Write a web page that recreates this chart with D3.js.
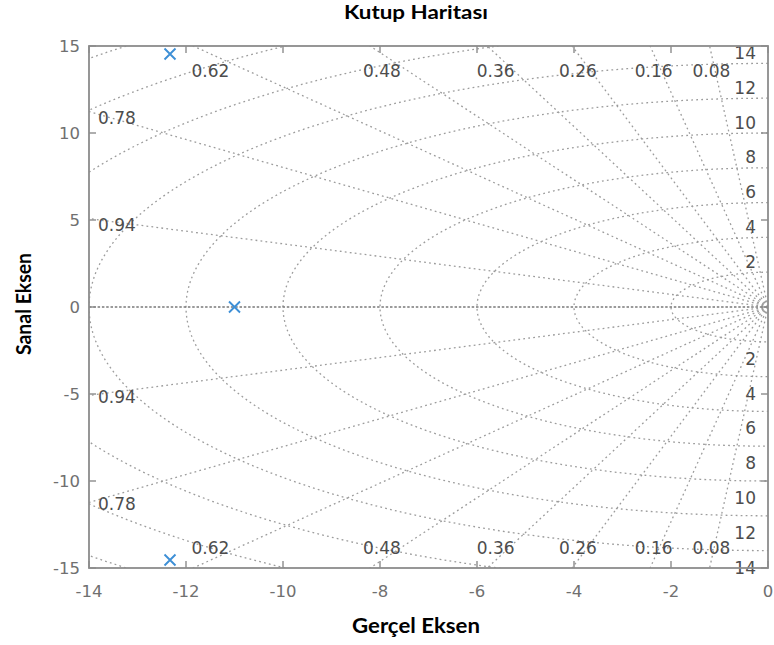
<!DOCTYPE html>
<html>
<head>
<meta charset="utf-8">
<script src="https://cdn.jsdelivr.net/npm/d3@7"></script>
<style>
  body { margin: 0; background: #fff; }
  svg { display: block; }
</style>
</head>
<body>
<div id="vis"></div>
<script>
// data
const realTicks = [-14, -12, -10, -8, -6, -4, -2, 0];
const imagTicks = [-15, -10, -5, 0, 5, 10, 15];
const dampingValues = [0.08, 0.16, 0.26, 0.36, 0.48, 0.62, 0.78, 0.94];
const freqValues = [2, 4, 6, 8, 10, 12, 14, 16, 18, 20];
const freqLabelValues = [2, 4, 6, 8, 10, 12, 14];
const poleRe = [-12.33, -11, -12.33];
const poleIm = [14.54, 0, -14.54];

let svg = d3.select("#vis")
    .append('svg')
    .attr('width', 774)
    .attr('height', 645)

let x = d3.scaleLinear().domain([-14, 0]).range([89, 768])
let y = d3.scaleLinear().domain([-15, 15]).range([568, 46])

svg.append('clipPath').attr('id', 'plot')
    .append('rect')
    .attr('x', x(-14)).attr('y', y(15))
    .attr('width', x(0) - x(-14)).attr('height', y(-15) - y(15))

let grid = svg.append('g').attr('clip-path', 'url(#plot)')

// natural frequency circles
let angles = d3.range(90, 271, 1).map(d => d * Math.PI / 180)
let line = d3.line().x(d => x(d[0])).y(d => y(d[1]))
freqValues.forEach(wn => {
    grid.append('path')
        .attr('d', line(angles.map(a => [wn * Math.cos(a), wn * Math.sin(a)])))
        .attr('fill', 'none')
        .attr('stroke', '#9c9c9c')
        .attr('stroke-width', 1.3)
        .attr('stroke-dasharray', '1.8,3.2')
})

// damping rays
dampingValues.forEach(z => {
    let w = Math.sqrt(1 - z * z)
    ;[1, -1].forEach(s => {
        grid.append('line')
            .attr('x1', x(0)).attr('y1', y(0))
            .attr('x2', x(-40 * z)).attr('y2', y(40 * w * s))
            .attr('stroke', '#9c9c9c')
            .attr('stroke-width', 1.3)
            .attr('stroke-dasharray', '1.8,3.2')
    })
})

// real axis
grid.append('line')
    .attr('x1', x(-14)).attr('y1', y(0))
    .attr('x2', x(0)).attr('y2', y(0))
    .attr('stroke', '#7a7a7a')
    .attr('stroke-width', 1.3)
    .attr('stroke-dasharray', '2.5,1.8')

// damping labels
dampingValues.forEach(z => {
    let ratio = Math.sqrt(1 - z * z) / z
    let topX = -15 / ratio
    if (topX > -14) {
        let lx = -14.55 / ratio
        ;[[y(15) + 25], [y(-15) - 20]].forEach(p => {
            svg.append('text')
                .attr('x', x(lx)).attr('y', p[0])
                .attr('text-anchor', 'middle')
                .attr('dominant-baseline', 'central')
                .attr('font-family', 'DejaVu Sans')
                .attr('font-size', 17)
                .attr('fill', '#4d4d4d')
                .text(z.toFixed(2))
        })
    } else {
        let ly = 14 * ratio
        ;[[y(ly) + 6], [y(-ly) + 1.5]].forEach(p => {
            svg.append('text')
                .attr('x', x(-14) + 9).attr('y', p[0])
                .attr('dominant-baseline', 'central')
                .attr('font-family', 'DejaVu Sans')
                .attr('font-size', 17)
                .attr('fill', '#4d4d4d')
                .text(z.toFixed(2))
        })
    }
})

// frequency labels on the right
freqLabelValues.forEach(wn => {
    svg.append('text')
        .attr('x', x(0) - 12).attr('y', y(wn) - 10.5)
        .attr('text-anchor', 'end')
        .attr('dominant-baseline', 'central')
        .attr('font-family', 'DejaVu Sans')
        .attr('font-size', 17)
        .attr('fill', '#4d4d4d')
        .text(wn)
    svg.append('text')
        .attr('x', x(0) - 12).attr('y', y(-wn) + 17)
        .attr('text-anchor', 'end')
        .attr('dominant-baseline', 'central')
        .attr('font-family', 'DejaVu Sans')
        .attr('font-size', 17)
        .attr('fill', '#4d4d4d')
        .text(wn)
})

// box and ticks
svg.append('rect')
    .attr('x', x(-14)).attr('y', y(15))
    .attr('width', x(0) - x(-14)).attr('height', y(-15) - y(15))
    .attr('fill', 'none')
    .attr('stroke', '#8c8c8c')
    .attr('stroke-width', 1.8)

realTicks.forEach(t => {
    svg.append('line')
        .attr('x1', x(t)).attr('x2', x(t))
        .attr('y1', y(-15)).attr('y2', y(-15) - 7)
        .attr('stroke', '#8c8c8c').attr('stroke-width', 1.4)
    svg.append('line')
        .attr('x1', x(t)).attr('x2', x(t))
        .attr('y1', y(15)).attr('y2', y(15) + 7)
        .attr('stroke', '#8c8c8c').attr('stroke-width', 1.4)
    svg.append('text')
        .attr('x', x(t)).attr('y', y(-15) + 23)
        .attr('text-anchor', 'middle')
        .attr('dominant-baseline', 'central')
        .attr('font-family', 'DejaVu Sans')
        .attr('font-size', 16.5)
        .attr('fill', '#707070')
        .text(t)
})

imagTicks.forEach(t => {
    svg.append('line')
        .attr('x1', x(-14)).attr('x2', x(-14) + 7)
        .attr('y1', y(t)).attr('y2', y(t))
        .attr('stroke', '#8c8c8c').attr('stroke-width', 1.4)
    svg.append('line')
        .attr('x1', x(0)).attr('x2', x(0) - 7)
        .attr('y1', y(t)).attr('y2', y(t))
        .attr('stroke', '#8c8c8c').attr('stroke-width', 1.4)
    svg.append('text')
        .attr('x', x(-14) - 9).attr('y', y(t))
        .attr('text-anchor', 'end')
        .attr('dominant-baseline', 'central')
        .attr('font-family', 'DejaVu Sans')
        .attr('font-size', 16.5)
        .attr('fill', '#707070')
        .text(t)
})

// poles
poleRe.forEach((re, i) => {
    let cx = x(re), cy = y(poleIm[i])
    svg.append('path')
        .attr('d', `M${cx - 5.5},${cy - 5.5}L${cx + 5.5},${cy + 5.5}M${cx - 5.5},${cy + 5.5}L${cx + 5.5},${cy - 5.5}`)
        .attr('stroke', '#3d8fd6')
        .attr('stroke-width', 1.9)
        .attr('fill', 'none')
})

// titles
svg.append('text')
    .attr('x', 416).attr('y', 19)
    .attr('text-anchor', 'middle')
    .attr('font-family', 'Lato')
    .attr('font-weight', 'bold')
    .attr('font-size', 19)
    .attr('textLength', 144).attr('lengthAdjust', 'spacingAndGlyphs')
    .text('Kutup Haritası')

svg.append('text')
    .attr('x', 416).attr('y', 633)
    .attr('text-anchor', 'middle')
    .attr('font-family', 'Lato')
    .attr('font-weight', 'bold')
    .attr('font-size', 20)
    .attr('textLength', 128).attr('lengthAdjust', 'spacingAndGlyphs')
    .text('Gerçel Eksen')

svg.append('text')
    .attr('transform', 'translate(31,304) rotate(-90)')
    .attr('text-anchor', 'middle')
    .attr('font-family', 'Lato')
    .attr('font-weight', 'bold')
    .attr('font-size', 20)
    .attr('textLength', 102).attr('lengthAdjust', 'spacingAndGlyphs')
    .text('Sanal Eksen')
</script>
</body>
</html>
